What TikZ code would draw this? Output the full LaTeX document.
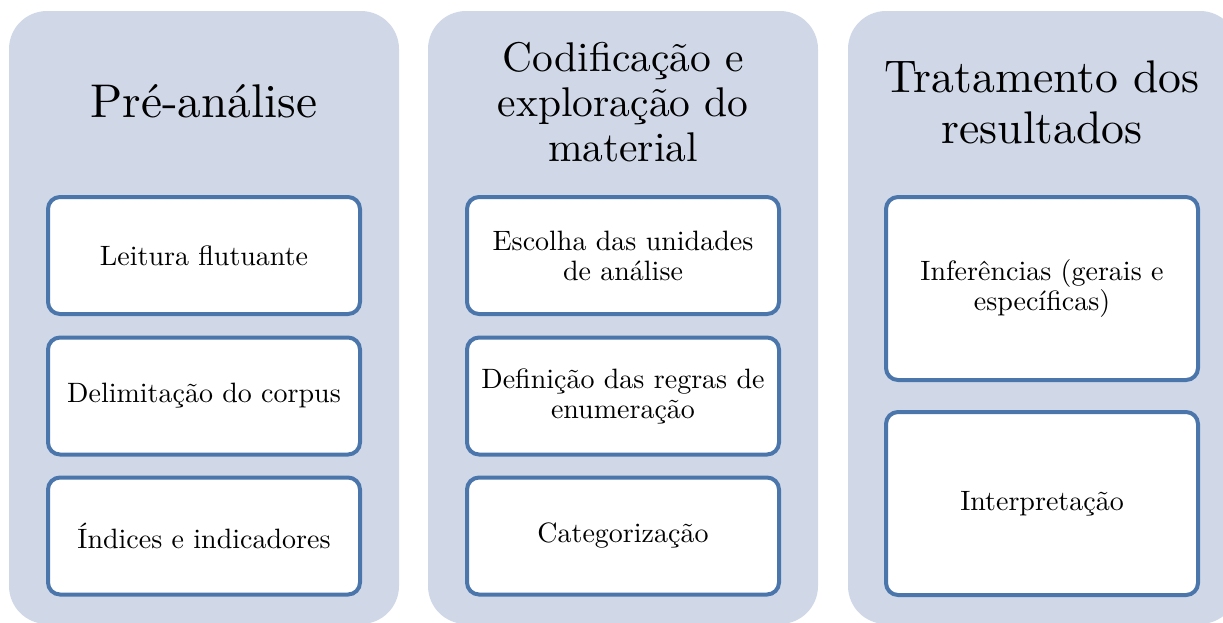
\documentclass[tikz,border=0pt]{standalone}
\usepackage{fontspec}
\setmainfont{lmroman10-regular.otf}
\definecolor{panelfill}{HTML}{D0D8E8}
\definecolor{itemborder}{HTML}{4A76AB}
\tikzset{
  panel/.style={fill=panelfill, rounded corners=38pt, minimum width=390pt, minimum height=613pt, inner sep=0pt, outer sep=0pt},
  item/.style={draw=itemborder, line width=4pt, fill=white, rounded corners=12pt, minimum width=312pt, align=center, font=\fontsize{28}{30}\selectfont, inner sep=0pt},
  shortitem/.style={item, minimum height=117pt},
  tallitem/.style={item, minimum height=183pt},
  title/.style={align=center, inner sep=0pt}
}
\begin{document}
\begin{tikzpicture}[x=1pt, y=-1pt]
\useasboundingbox (0,0) rectangle (1223,622);
\clip (0,0) rectangle (1223,622);
% panels
\node[panel] (p1) at (204,317.5) {};
\node[panel] (p2) at (623,317.5) {};
\node[panel] (p3) at (1043,317.5) {};
% titles
\node[title, font=\fontsize{47.3}{51}\selectfont] (t1) at (204,101.5) {Pré-análise};
\node[title, font=\fontsize{41.5}{45}\selectfont] (t2) at (623,102.5) {Codificação e\\exploração do\\material};
\node[title, font=\fontsize{45.7}{51}\selectfont] (t3) at (1042,102.5) {Tratamento dos\\resultados};
% items panel 1
\node[shortitem] (a1) at (204,255.5) {Leitura flutuante};
\node[shortitem] (a2) at (204,396) {Delimitação do corpus};
\node[shortitem] (a3) at (204,536) {Índices e indicadores};
% items panel 2
\node[shortitem] (b1) at (623,255.5) {Escolha das unidades\\de análise};
\node[shortitem] (b2) at (623,396) {Definição das regras de\\enumeração};
\node[shortitem] (b3) at (623,536) {Categorização};
% items panel 3
\node[tallitem] (c1) at (1042,288.5) {Inferências (gerais e\\específicas)};
\node[tallitem] (c2) at (1042,503.5) {Interpretação};
\end{tikzpicture}
\end{document}
